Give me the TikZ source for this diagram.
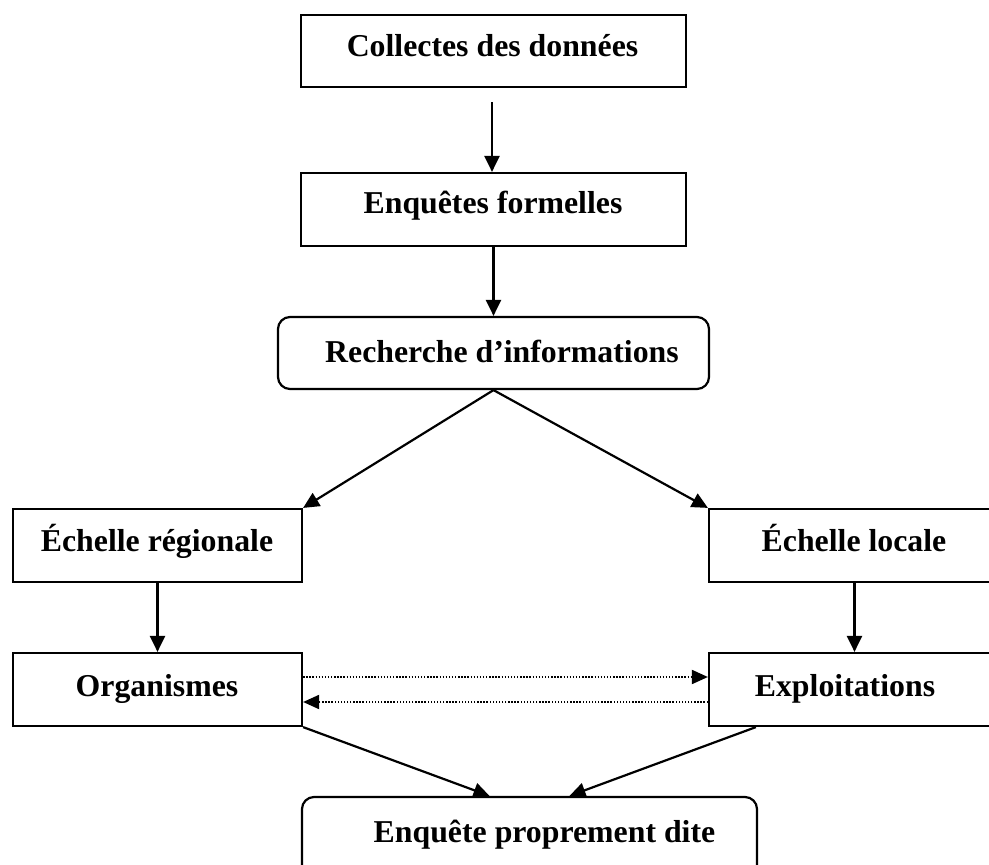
\documentclass[tikz,border=0pt]{standalone}
\usepackage{fontspec}
\setmainfont{Liberation Serif}
\usetikzlibrary{arrows.meta}

\tikzset{
  box/.style={draw, line width=2.2pt, inner sep=0pt, rectangle},
  roundbox/.style={box, rounded corners=12pt},
  lbl/.style={anchor=base, inner sep=0pt, font=\fontsize{31.8}{36}\selectfont\bfseries},
  arr/.style={line width=2.2pt, -{Triangle[length=16pt, width=15pt]}},
  dotarr/.style={line width=1.9pt, dash pattern=on 1.4pt off 1.7pt,
                 -{Triangle[length=16pt, width=14pt]}}
}

\begin{document}
\begin{tikzpicture}[x=1pt, y=-1pt]
  \clip (0,0) rectangle (989,865);
  \fill[white] (0,0) rectangle (989,865);

  % boxes
  \node[box, minimum width=385pt, minimum height=72pt] (c1) at (493.5,51) {};
  \node[box, minimum width=385pt, minimum height=73pt] (c2) at (493.5,209.5) {};
  \node[roundbox, minimum width=431pt, minimum height=72pt] (rech) at (493.5,353) {};
  \node[box, minimum width=289pt, minimum height=73pt] (reg) at (157.5,545.5) {};
  \node[box, minimum width=291pt, minimum height=73pt] (loc) at (854.5,545.5) {};
  \node[box, minimum width=289pt, minimum height=73pt] (org) at (157.5,689.5) {};
  \node[box, minimum width=291pt, minimum height=73pt] (exp) at (854.5,689.5) {};
  \node[roundbox, minimum width=455pt, minimum height=83pt] (enq) at (529.5,838.5) {};

  % labels
  \node[lbl] (t1) at (492.5,56) {Collectes des données};
  \node[lbl] (t2) at (493,213) {Enquêtes formelles};
  \node[lbl] (t3) at (502,362) {Recherche d’informations};
  \node[lbl] (t4) at (157,551) {Échelle régionale};
  \node[lbl] (t5) at (854,551) {Échelle locale};
  \node[lbl] (t6) at (157,696) {Organismes};
  \node[lbl] (t7) at (845,696) {Exploitations};
  \node[lbl] (t8) at (544.5,842) {Enquête proprement dite};

  % connectors
  \draw[arr] ([xshift=-1.5pt, yshift=-14pt]c1.south) -- ([xshift=-1.5pt]c2.north);
  \draw[arr] (c2.south) -- (rech.north);
  \draw[arr] (rech.south) -- (reg.north east);
  \draw[arr] (rech.south) -- (loc.north west);
  \draw[arr] (reg.south) -- (org.north);
  \draw[arr] (loc.south) -- (exp.north);
  \draw[dotarr] ([yshift=12.5pt]org.east) -- ([yshift=12.5pt]exp.west);
  \draw[dotarr] ([yshift=-12.5pt]exp.west) -- ([yshift=-12.5pt]org.east);
  \draw[arr] (org.south east) -- ([xshift=-40pt]enq.north);
  \draw[arr] ([xshift=48pt]exp.south west) -- ([xshift=40pt]enq.north);
\end{tikzpicture}
\end{document}
